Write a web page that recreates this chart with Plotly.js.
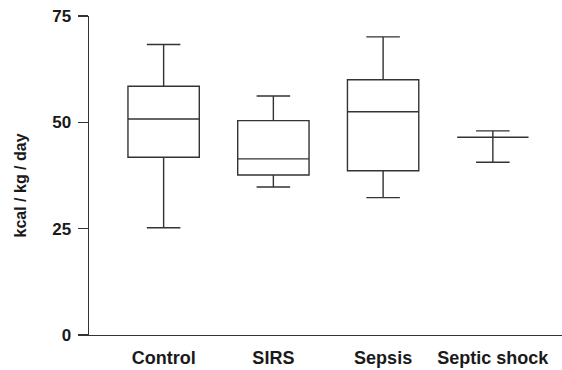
<!DOCTYPE html>
<html><head><meta charset="utf-8">
<script src="https://cdn.plot.ly/plotly-3.0.1.min.js"></script>
<style>html,body{margin:0;padding:0;background:#fff}</style>
</head><body><div id="chart" style="width:562px;height:370px"></div>
<script>
const categories = ["Control", "SIRS", "Sepsis", "Septic shock"];
const lowerWhisker = [25.2, 34.8, 32.3, 40.6];
const q1 = [41.8, 37.6, 38.6, 46.5];
const median = [50.8, 41.4, 52.5, 46.5];
const q3 = [58.5, 50.4, 60.0, 46.5];
const upperWhisker = [68.3, 56.2, 70.1, 48.0];
const yTicks = [0, 25, 50, 75];

const font = "Liberation Sans, Arial, sans-serif";
const trace = {
  type: "box",
  x: categories,
  q1: q1, median: median, q3: q3,
  lowerfence: lowerWhisker, upperfence: upperWhisker,
  width: 0.65,
  line: {color: "#333", width: 1.4},
  fillcolor: "rgba(255,255,255,0)",
  whiskerwidth: 0.47,
  boxpoints: false,
  hoverinfo: "skip"
};
const layout = {
  width: 562, height: 370,
  margin: {l: 89, r: 0, t: 16, b: 35},
  paper_bgcolor: "#fff", plot_bgcolor: "#fff",
  showlegend: false,
  font: {family: font, color: "#1a1a1a"},
  xaxis: {
    type: "category",
    range: [-0.68, 3.63],
    showline: true, linecolor: "#333", linewidth: 1.4,
    ticks: "", showgrid: false, zeroline: false,
    ticklabelstandoff: 6,
    tickfont: {family: font, size: 18, color: "#1a1a1a", weight: "bold"}
  },
  yaxis: {
    range: [0, 75],
    tickvals: yTicks,
    ticktext: yTicks.map(String),
    showline: true, linecolor: "#333", linewidth: 1.4,
    ticks: "outside", ticklen: 10, tickwidth: 1.4, tickcolor: "#333",
    showgrid: false, zeroline: false,
    ticklabelstandoff: 3,
    tickfont: {family: font, size: 17, color: "#1a1a1a", weight: "bold"}
  },
  annotations: [{
    text: "kcal / kg / day", textangle: -90,
    xref: "paper", yref: "paper", x: -0.145, y: 0.47,
    xanchor: "center", yanchor: "middle", showarrow: false,
    font: {family: font, size: 16, color: "#1a1a1a", weight: "bold"}
  }]
};
Plotly.newPlot("chart", [trace], layout, {displayModeBar: false, staticPlot: true});
</script></body></html>
